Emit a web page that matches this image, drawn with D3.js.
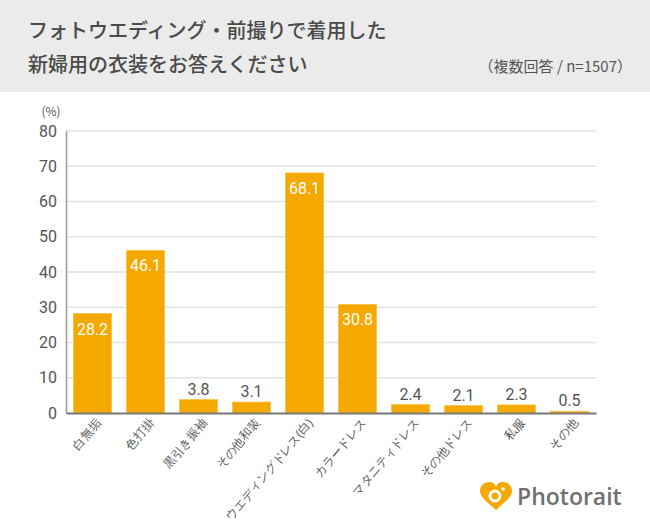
<!DOCTYPE html>
<html><head><meta charset="utf-8">
<script src="https://cdn.jsdelivr.net/npm/d3@7"></script>
<style>body{margin:0;background:#fff;} svg{display:block;font-family:"Noto Sans CJK JP","Noto Sans",sans-serif;}</style>
</head><body>
<script>
const categories = ["白無垢","色打掛","黒引き振袖","その他和装","ウエディングドレス(白)","カラードレス","マタニティドレス","その他ドレス","私服","その他"];
const values = [28.2,46.1,3.8,3.1,68.1,30.8,2.4,2.1,2.3,0.5];
const yTicks = [0,10,20,30,40,50,60,70,80];
const titleLines = ["フォトウエディング・前撮りで着用した","新婦用の衣装をお答えください"];
const note = "（複数回答 / n=1507）";

const W=650,H=527;
const svg=d3.select("body").append("svg").attr("width",W).attr("height",H);
svg.append("rect").attr("width",W).attr("height",92).attr("fill","#ebebeb");
svg.selectAll("text.title").data(titleLines).enter().append("text")
  .attr("x",28).attr("y",(d,i)=>38+i*34).attr("font-size",20).attr("font-weight",500)
  .attr("fill","#4a4a4a").text(d=>d);
svg.append("text").attr("x",632).attr("y",72).attr("text-anchor","end")
  .attr("font-size",15).attr("fill","#555").text(note);

const m={l:66,r:596,t:131,b:413};
const x=d3.scaleBand().domain(categories).range([m.l,m.r]).paddingInner(0.28).paddingOuter(0.14);
const y=d3.scaleLinear().domain([0,80]).range([m.b,m.t]);

svg.append("g").selectAll("line").data(yTicks.filter(d=>d>0)).enter().append("line")
  .attr("x1",m.l).attr("x2",m.r).attr("y1",d=>y(d)).attr("y2",d=>y(d))
  .attr("stroke","#e3e3e3").attr("stroke-width",1.5);

const yAxis=svg.append("g").attr("transform",`translate(${m.l},0)`)
  .call(d3.axisLeft(y).tickValues(yTicks).tickSize(0).tickPadding(9));
yAxis.select(".domain").attr("stroke","#999").attr("stroke-width",1.5);
yAxis.selectAll("text").attr("font-size",16).attr("fill","#555").attr("font-family","Roboto,'Noto Sans',sans-serif");
svg.append("text").attr("x",51).attr("y",116).attr("text-anchor","middle").attr("font-size",12).attr("fill","#555").text("(%)");

svg.append("g").selectAll("rect").data(values).enter().append("rect")
  .attr("x",(d,i)=>x(categories[i])).attr("width",x.bandwidth())
  .attr("y",d=>y(d)).attr("height",d=>y(0)-y(d))
  .attr("fill","#f5a800").attr("stroke","#f8c24a").attr("stroke-width",0.8);

svg.append("g").selectAll("text").data(values).enter().append("text")
  .attr("x",(d,i)=>x(categories[i])+x.bandwidth()/2)
  .attr("y",d=>d>20?y(d)+21:y(d)-5)
  .attr("text-anchor","middle").attr("font-size",16)
  .attr("font-family","Roboto,'Noto Sans',sans-serif")
  .attr("fill",d=>d>20?"#fff":"#555").text(d=>d.toFixed(1));

const xAxis=svg.append("g").attr("transform",`translate(0,${m.b})`)
  .call(d3.axisBottom(x).tickSize(0).tickPadding(0));
xAxis.select(".domain").attr("stroke","#777").attr("stroke-width",2);
xAxis.selectAll("text").attr("font-size",12).attr("fill","#555")
  .attr("text-anchor","end").attr("dy",0)
  .attr("transform","translate(9,10) rotate(-50)");

// logo
const lg=svg.append("g").attr("transform","translate(496,497)");
lg.append("path").attr("d","M0,13 C-6,7 -16,1 -16,-6 C-16,-12 -11,-15 -7,-15 C-3,-15 -1,-13 0,-10 C1,-13 3,-15 7,-15 C11,-15 16,-12 16,-6 C16,1 6,7 0,13 Z").attr("fill","#f5a800");
lg.append("circle").attr("cx",-1).attr("cy",-1).attr("r",5).attr("fill","none").attr("stroke","#fff").attr("stroke-width",3);
lg.append("circle").attr("cx",7).attr("cy",-8).attr("r",1.8).attr("fill","#fff");
svg.append("text").attr("x",517).attr("y",505).attr("font-size",23).attr("font-weight",600)
  .attr("font-family","'Open Sans','Noto Sans',sans-serif").attr("fill","#707070").text("Photorait");
</script>
</body></html>
